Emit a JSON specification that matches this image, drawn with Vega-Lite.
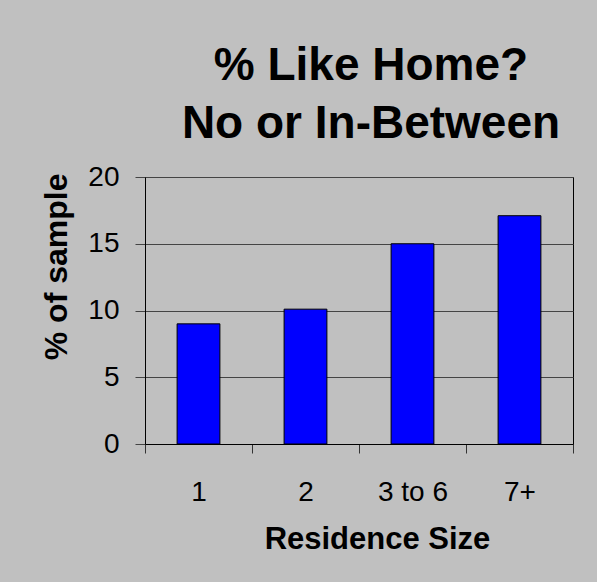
{
  "$schema": "https://vega.github.io/schema/vega-lite/v6.json",
  "autosize": {"type": "none"},
  "width": 428,
  "height": 267,
  "padding": {"left": 145, "top": 177, "right": 24, "bottom": 138},
  "background": "#c0c0c0",
  "title": {
    "text": ["% Like Home?", "No or In-Between"],
    "font": "Liberation Sans",
    "fontSize": 46,
    "fontWeight": "bold",
    "color": "#000000",
    "lineHeight": 58,
    "anchor": "middle",
    "dx": 12,
    "offset": 15
  },
  "data": {
    "values": [
      {"size": "1", "pct": 9.0},
      {"size": "2", "pct": 10.1},
      {"size": "3 to 6", "pct": 15.0},
      {"size": "7+", "pct": 17.1}
    ]
  },
  "mark": {"type": "bar", "color": "#0000ff", "stroke": "#000000", "strokeWidth": 1},
  "encoding": {
    "x": {
      "field": "size",
      "type": "nominal",
      "sort": null,
      "title": "Residence Size",
      "scale": {"paddingInner": 0.6, "paddingOuter": 0.3},
      "axis": {
        "labelAngle": 0,
        "bandPosition": 2.5,
        "tickOffset": -32.1,
        "tickExtra": true,
        "labelOffset": 32.1,
        "tickSize": 9,
        "tickColor": "#333333",
        "domainColor": "#000000",
        "labelFontSize": 28,
        "labelPadding": 25,
        "titleFontSize": 31,
        "titlePadding": 18,
        "titleX": 232,
        "titleAlign": "center",
        "grid": false
      }
    },
    "y": {
      "field": "pct",
      "type": "quantitative",
      "title": "% of sample",
      "scale": {"domain": [0, 20]},
      "axis": {
        "values": [0, 5, 10, 15, 20],
        "tickSize": 10,
        "tickColor": "#444444",
        "gridColor": "#444444",
        "gridOpacity": 1,
        "domainColor": "#000000",
        "labelFontSize": 28,
        "labelPadding": 16,
        "titleFontSize": 32,
        "titlePadding": 14,
        "titleAnchor": "end",
        "titleY": -4
      }
    }
  },
  "config": {
    "font": "Liberation Sans",
    "view": {"stroke": "#000000", "strokeWidth": 1},
    "axis": {
      "labelFont": "Liberation Sans",
      "titleFont": "Liberation Sans",
      "labelColor": "#000000",
      "titleColor": "#000000",
      "titleFontWeight": "bold",
      "domainWidth": 1,
      "tickWidth": 1,
      "gridWidth": 1
    }
  }
}
